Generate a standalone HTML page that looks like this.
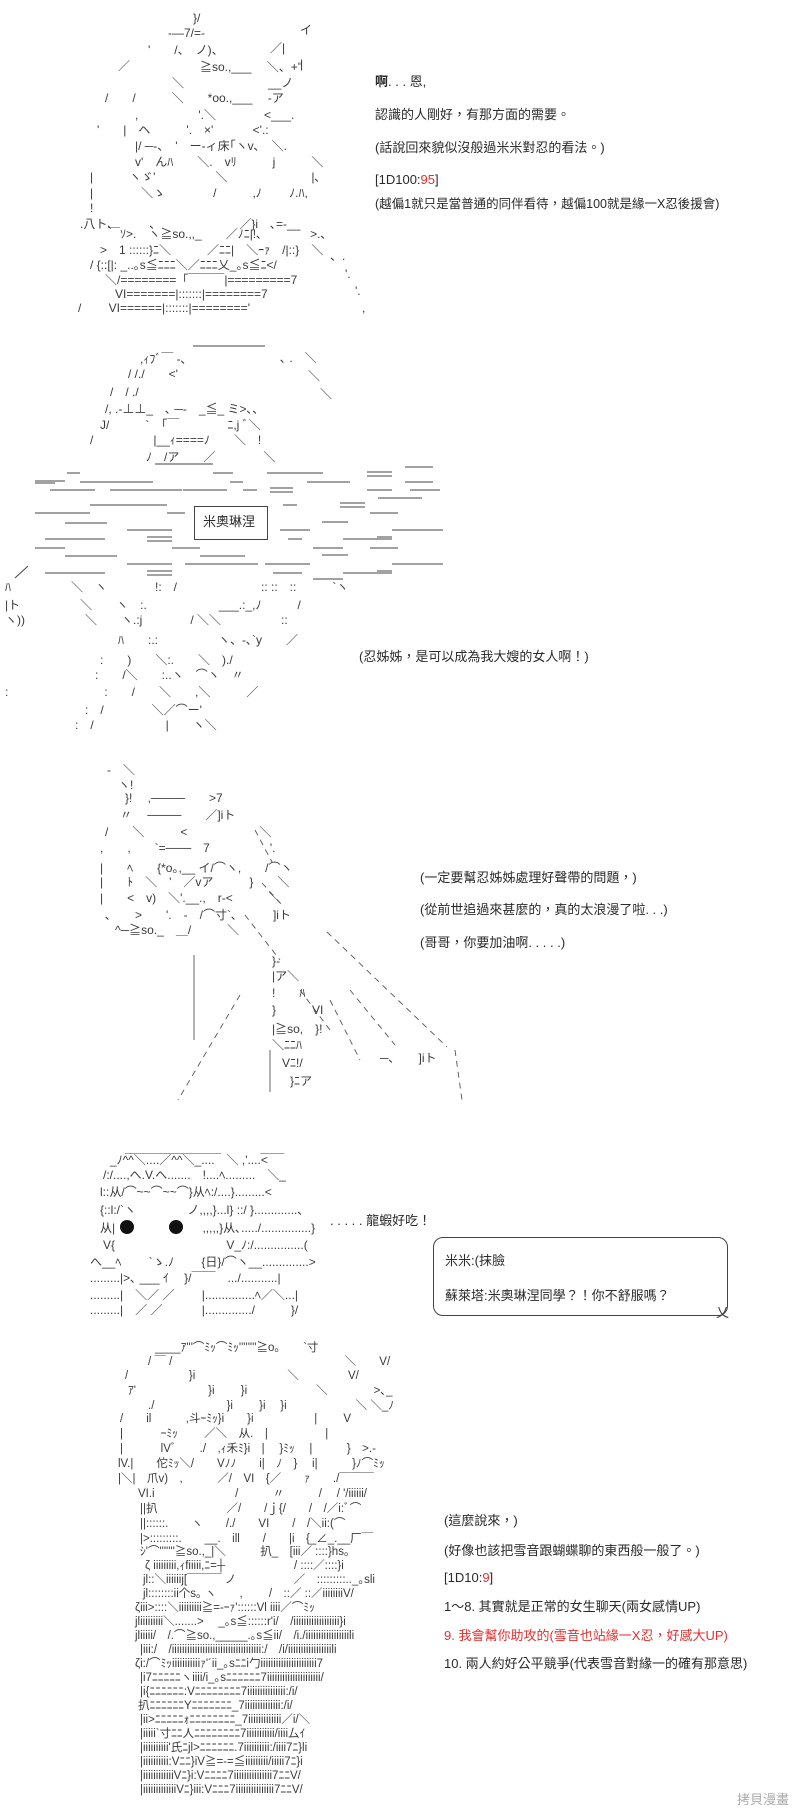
<!DOCTYPE html>
<html><head><meta charset="utf-8">
<style>
html,body{margin:0;padding:0;background:#fff;}
body{width:800px;height:1816px;position:relative;overflow:hidden;}
.a{position:absolute;white-space:pre;font-family:"Liberation Sans","Noto Sans CJK JP",sans-serif;font-size:12px;line-height:1;color:#3a3a3a;}
.s5 .a{font-size:11.5px;}
.t{position:absolute;white-space:pre;font-family:"Liberation Sans","Noto Sans CJK TC",sans-serif;font-size:13px;line-height:1;color:#2a2a2a;}
.r{color:#e03030;}
svg{position:absolute;left:0;top:0;}
</style></head><body>

<!-- Section 1 art -->
<div class="a" style="left:193px;top:12px">}/</div>
<div class="a" style="left:168px;top:27px">-―7/=-</div>
<div class="a" style="left:300px;top:24px">イ</div>
<div class="a" style="left:148px;top:44px">'　　/、　ノ)、</div>
<div class="a" style="left:270px;top:42px">／|</div>
<div class="a" style="left:118px;top:60px">／</div>
<div class="a" style="left:200px;top:61px">≧so.,___　 ＼、+''</div>
<div class="a" style="left:300px;top:58px">|</div>
<div class="a" style="left:172px;top:77px">＼　　　　　　　__ノ</div>
<div class="a" style="left:105px;top:92px">/　　/　　　＼　　*oo.,___　 -ア</div>
<div class="a" style="left:135px;top:109px">,　　　　　'.＼　　　　&lt;___.</div>
<div class="a" style="left:97px;top:124px">'　　|　ヘ　　　'.　×'　　　 &lt;'.:</div>
<div class="a" style="left:135px;top:140px">|/ ─-、　'　ー-ィ床｢ヽv､　＼.</div>
<div class="a" style="left:135px;top:156px">v'　んﾊ　　＼.　vﾘ　　　j　　　＼</div>
<div class="a" style="left:90px;top:171px">|　　　ヽゞ'　　　　　＼　　　　　　　|､</div>
<div class="a" style="left:90px;top:187px">|　　　　＼ゝ　　　　/　　　,ﾉ　　 ﾉ.ﾊ,</div>
<div class="a" style="left:90px;top:202px">!</div>
<div class="a" style="left:80px;top:218px">.八ト､　　　､　　　　　　　／}i　､=-__</div>
<div class="a" style="left:108px;top:228px">￣ｿ&gt;.　ヽ≧so.,,_　　／ﾉﾆ|!､　　　　&gt;.､</div>
<div class="a" style="left:100px;top:244px">&gt;　1 ::::::}ﾆ＼　　　／ﾆﾆ|　＼ｰｧ　/|::}　＼</div>
<div class="a" style="left:90px;top:259px">/ {::[|: _..｡s≦ﾆﾆﾆ＼／ﾆﾆﾆ乂_｡s≦ﾆ&lt;/</div>
<div class="a" style="left:105px;top:274px">＼/========「￣￣￣|=========7</div>
<div class="a" style="left:115px;top:288px">VI=======|:::::::|========7</div>
<div class="a" style="left:78px;top:302px">/　　 VI======|:::::::|========'</div>
<div class="a" style="left:330px;top:250px">、.</div>
<div class="a" style="left:345px;top:268px">'.</div>
<div class="a" style="left:355px;top:285px">'.</div>
<div class="a" style="left:362px;top:302px">,</div>

<div class="t" style="left:375px;top:75px"><b>啊</b>. . . 恩,</div>
<div class="t" style="left:375px;top:108px">認識的人剛好，有那方面的需要。</div>
<div class="t" style="left:375px;top:141px">(話說回來貌似沒般過米米對忍的看法。)</div>
<div class="t" style="left:375px;top:173px">[1D100:<span class="r">95</span>]</div>
<div class="t" style="left:375px;top:198px;font-size:12.5px">(越偏1就只是當普通的同伴看待，越偏100就是緣一X忍後援會)</div>

<!-- Section 2 art -->
<div class="a" style="left:140px;top:353px">,ｨﾌﾞ￣ -､</div>
<div class="a" style="left:280px;top:352px">､ .　＼</div>
<div class="a" style="left:128px;top:368px">/ /./　　&lt;'</div>
<div class="a" style="left:308px;top:370px">＼</div>
<div class="a" style="left:110px;top:386px">/　/ ./</div>
<div class="a" style="left:320px;top:388px">＼</div>
<div class="a" style="left:105px;top:403px">/, .-⊥⊥_　､ ─-　_≦_ ミ&gt;､､</div>
<div class="a" style="left:100px;top:419px">J/　　　`　｢￣　　　　ﾆ,j ﾞ＼</div>
<div class="a" style="left:90px;top:434px">/　　　　　|__ｨ====ﾉ　　＼　!</div>
<div class="a" style="left:146px;top:451px">ﾉ　/ア　　／　　　　＼</div>
<svg width="800" height="1816" style="pointer-events:none">
<g stroke="#444" stroke-width="1" fill="none">
<line x1="193" y1="346" x2="265" y2="346"/>
<line x1="155" y1="464" x2="213" y2="464"/>
<line x1="405" y1="467" x2="433" y2="467"/>
<line x1="67" y1="473" x2="80" y2="473"/><line x1="213" y1="473" x2="233" y2="473"/><line x1="267" y1="473" x2="323" y2="473"/>
<line x1="367" y1="472" x2="392" y2="472"/><line x1="367" y1="476" x2="392" y2="476"/>
<line x1="35" y1="481" x2="65" y2="481"/><line x1="35" y1="483" x2="55" y2="483"/><line x1="80" y1="482" x2="153" y2="482"/><line x1="230" y1="482" x2="243" y2="482"/><line x1="307" y1="482" x2="350" y2="482"/><line x1="405" y1="482" x2="433" y2="482"/>
<line x1="50" y1="490" x2="95" y2="490"/><line x1="110" y1="490" x2="182" y2="490"/><line x1="183" y1="490" x2="227" y2="490"/><line x1="243" y1="490" x2="257" y2="490"/>
<line x1="270" y1="488" x2="293" y2="488"/><line x1="270" y1="492" x2="293" y2="492"/><line x1="367" y1="490" x2="392" y2="490"/><line x1="410" y1="490" x2="440" y2="490"/>
<line x1="378" y1="498" x2="422" y2="498"/>
<line x1="90" y1="505" x2="167" y2="505"/><line x1="283" y1="505" x2="297" y2="505"/><line x1="340" y1="503" x2="365" y2="503"/><line x1="340" y1="507" x2="365" y2="507"/>
<line x1="35" y1="513" x2="90" y2="513"/><line x1="167" y1="513" x2="185" y2="513"/><line x1="370" y1="513" x2="398" y2="513"/>
<line x1="65" y1="523" x2="107" y2="523"/><line x1="322" y1="522" x2="348" y2="522"/>
<line x1="127" y1="530" x2="172" y2="530"/><line x1="280" y1="530" x2="310" y2="530"/><line x1="392" y1="530" x2="443" y2="530"/>
<line x1="45" y1="539" x2="105" y2="539"/><line x1="147" y1="537" x2="172" y2="537"/><line x1="147" y1="541" x2="172" y2="541"/><line x1="288" y1="539" x2="302" y2="539"/><line x1="343" y1="539" x2="392" y2="539"/><line x1="377" y1="537" x2="392" y2="537"/>
<line x1="35" y1="548" x2="65" y2="548"/><line x1="172" y1="548" x2="200" y2="548"/><line x1="313" y1="548" x2="343" y2="548"/><line x1="370" y1="548" x2="398" y2="548"/>
<line x1="65" y1="556" x2="117" y2="556"/><line x1="200" y1="556" x2="245" y2="556"/><line x1="322" y1="555" x2="348" y2="555"/>
<line x1="127" y1="564" x2="172" y2="564"/><line x1="185" y1="564" x2="258" y2="564"/><line x1="265" y1="564" x2="310" y2="564"/><line x1="392" y1="564" x2="443" y2="564"/>
<line x1="45" y1="573" x2="105" y2="573"/><line x1="147" y1="571" x2="172" y2="571"/><line x1="147" y1="575" x2="172" y2="575"/><line x1="273" y1="573" x2="302" y2="573"/><line x1="343" y1="573" x2="392" y2="573"/><line x1="377" y1="571" x2="392" y2="571"/>
<line x1="313" y1="579" x2="343" y2="579"/>
<line x1="15" y1="578" x2="28" y2="566"/>
</g>
<g stroke="#555" stroke-width="0.9" stroke-dasharray="6 5" fill="none">
<line x1="245" y1="915" x2="280" y2="960"/>
<line x1="327" y1="932" x2="447" y2="1047"/>
<line x1="255" y1="830" x2="272" y2="862"/>
<line x1="262" y1="883" x2="282" y2="905"/>
<line x1="350" y1="990" x2="395" y2="1045"/>
<line x1="330" y1="1000" x2="360" y2="1060"/>
<line x1="240" y1="995" x2="178" y2="1100"/>
<line x1="455" y1="1050" x2="462" y2="1100"/>
<line x1="300" y1="990" x2="330" y2="1030"/>
</g>
<g stroke="#555" stroke-width="0.9" fill="none">
<line x1="194" y1="955" x2="194" y2="1040"/>
<line x1="270" y1="1050" x2="270" y2="1092"/>
</g>
<circle cx="127" cy="1227" r="7" fill="#111"/>
<circle cx="176" cy="1227" r="7" fill="#111"/>
</svg>
<div style="position:absolute;left:194px;top:506px;width:72px;height:32px;border:1px solid #444;"></div>
<div class="t" style="left:203px;top:515px;font-size:13px">米奧琳涅</div>
<div class="a" style="left:5px;top:581px">ﾊ　　　　　＼　ヽ　　　　!:　/　　　　　　　:: ::　::　　　`ヽ</div>
<div class="a" style="left:5px;top:599px">|ト　　　　　＼　　ヽ　:.　　　　　　___.:_,ﾉ　　　/</div>
<div class="a" style="left:5px;top:614px">ヽ))　　　　　＼　　ヽ.:j　　　　/ ＼＼　　　　　::</div>
<div class="a" style="left:118px;top:634px">ﾊ　　:.:　　　　　ヽ、-､`y　　／</div>
<div class="a" style="left:100px;top:654px">:　　)　　＼:.　　＼　)./</div>
<div class="a" style="left:95px;top:669px">:　　/＼　　:..ヽ　⌒ヽ　〃</div>
<div class="a" style="left:5px;top:686px">:　　　　　　　　:　　/　　＼　　,＼　　　／</div>
<div class="a" style="left:85px;top:704px">:　/　　　　＼／⌒ー'</div>
<div class="a" style="left:75px;top:719px">:　/　　　　　　|　　ヽ＼</div>
<div class="t" style="left:359px;top:650px">(忍姊姊，是可以成為我大嫂的女人啊！)</div>

<!-- Section 3 art -->
<div class="a" style="left:107px;top:764px">-　＼</div>
<div class="a" style="left:118px;top:779px">ヽ!</div>
<div class="a" style="left:125px;top:792px">}!　 ,────　　&gt;7</div>
<div class="a" style="left:120px;top:809px">〃　 ────　　／]iト</div>
<div class="a" style="left:105px;top:826px">/　　＼　　　&lt;　　　　　　＼</div>
<div class="a" style="left:100px;top:842px">,　　,　　`=───　7　　　　　'.</div>
<div class="a" style="left:100px;top:862px">|　　ﾍ　　{*o｡,__ イ/⌒ヽ,　　/⌒ヽ</div>
<div class="a" style="left:100px;top:876px">|　　ﾄ　＼　'　／vア　　　}　　＼</div>
<div class="a" style="left:100px;top:892px">|　　&lt;　v)　＼'.__.,　r-&lt;　　　＼</div>
<div class="a" style="left:105px;top:909px">､　　&gt;　　'.　-　/⌒寸`､　　　]iト</div>
<div class="a" style="left:115px;top:924px">^─≧so._　＿/　　　＼</div>
<div class="a" style="left:272px;top:955px">}-</div>
<div class="a" style="left:272px;top:970px">|ア＼</div>
<div class="a" style="left:272px;top:987px">!　　ﾊ</div>
<div class="a" style="left:272px;top:1004px">}　　　VI</div>
<div class="a" style="left:272px;top:1023px">|≧so,　}!</div>
<div class="a" style="left:272px;top:1039px">＼ﾆﾆﾊ</div>
<div class="a" style="left:282px;top:1057px">Vﾆ!/</div>
<div class="a" style="left:290px;top:1075px">}ﾆア</div>
<div class="a" style="left:380px;top:1052px">─､　　]iト</div>
<div class="t" style="left:420px;top:871px">(一定要幫忍姊姊處理好聲帶的問題，)</div>
<div class="t" style="left:420px;top:903px">(從前世追過來甚麼的，真的太浪漫了啦. . .)</div>
<div class="t" style="left:420px;top:936px">(哥哥，你要加油啊. . . . .)</div>

<!-- Section 4 art -->
<div class="a" style="left:125px;top:1142px">＿＿＿＿＿＿＿＿　　　 ＿＿</div>
<div class="a" style="left:110px;top:1154px">_ﾉ^^＼....／^^＼_....　＼ ,'....&lt;</div>
<div class="a" style="left:103px;top:1169px">/:/....,へ.V.へ.......　!....ﾍ.........　＼_</div>
<div class="a" style="left:100px;top:1186px">l::从/⌒~~⌒~~⌒}从ﾍ:/....}.........&lt;</div>
<div class="a" style="left:100px;top:1204px">{::l:/`ヽ　　　　 ノ,,,,}...l} ::/ }.............､</div>
<div class="a" style="left:100px;top:1222px">从|　　　　　　　 ,,,,,}从､...../...............}</div>
<div class="a" style="left:103px;top:1239px">V{　　　　　　　　　 V_ﾉ:/...............(</div>
<div class="a" style="left:90px;top:1256px">へ__ﾍ　　 `ゝ.ﾉ　　 {日}/⌒ヽ__..............&gt;</div>
<div class="a" style="left:90px;top:1272px">.........|&gt;､ ___ ｲ　 }/￣￣　.../...........|</div>
<div class="a" style="left:90px;top:1289px">.........|　＼／ ／　　 |...............ﾍ／＼...|</div>
<div class="a" style="left:90px;top:1304px">.........|　／ ／　　　 |............../　　　}/</div>
<div class="t" style="left:330px;top:1214px">. . . . . 龍蝦好吃！</div>
<div style="position:absolute;left:433px;top:1237px;width:293px;height:77px;border:1px solid #444;border-radius:10px;"></div>
<div class="a" style="left:716px;top:1306px;font-size:13px">乂</div>
<div class="t" style="left:445px;top:1254px">米米:(抹臉</div>
<div class="t" style="left:445px;top:1289px">蘇萊塔:米奧琳涅同學？！你不舒服嗎？</div>

<!-- Section 5 art -->
<div class="s5">
<div class="a" style="left:155px;top:1343px">____ｱ'''⌒ﾐｯ⌒ﾐｯ''''''''≧o｡　　`寸</div>
<div class="a" style="left:148px;top:1357px">/ ￣ /　　　　　　　　　　　　　　　＼　　V/</div>
<div class="a" style="left:125px;top:1371px">/　　　　　 }i　　　　　　　　＼　　　　 V/</div>
<div class="a" style="left:128px;top:1386px">ｱ'　　　　　　 }i　　 }i　　　　　　＼　　　　&gt;､_</div>
<div class="a" style="left:148px;top:1401px">./　　　　　　 }i　　 }i　 }i　　　　　　＼ ＼_ﾉ</div>
<div class="a" style="left:120px;top:1414px">/　　il　　　,斗ｰﾐｯ}i　　}i　　　　　 |　　 V</div>
<div class="a" style="left:120px;top:1429px">|　　　 ｰﾐｯ　　 ／＼　从.　|　　　　　|</div>
<div class="a" style="left:120px;top:1444px">|　　　 lVﾞ　　./　,ｨ禾ﾐ}i　|　 }ﾐｯ　 |　　　}　&gt;.-</div>
<div class="a" style="left:118px;top:1459px">lV.|　　佗ﾐｯ＼/　　Vﾉﾉ　　i|　ﾉ　}　 i|　　　}ﾉ⌒ﾐｯ</div>
<div class="a" style="left:118px;top:1474px">|＼|　爪v)　,　　　／/　VI　{／　　ｧ　　./￣￣￣</div>
<div class="a" style="left:138px;top:1489px">VI.i　　　　　　　/　　　〃　　　/　 / '/iiiiii/</div>
<div class="a" style="left:140px;top:1504px">||扒　　　　　　／/　　/ｊ{/　　/　/／i:ﾞ⌒</div>
<div class="a" style="left:140px;top:1519px">||::::::.　　ヽ　　/./　　VI　　/　/＼ii:(⌒</div>
<div class="a" style="left:140px;top:1534px">|&gt;:::::::::.　　__.　ill　　/　　|i　{_∠_.__厂￣</div>
<div class="a" style="left:140px;top:1547px">ｼ'⌒'''''''≧so.,_|＼　　　扒_　[iii／ ::::}hs｡</div>
<div class="a" style="left:145px;top:1561px">ζ iiiiiiiii,ｨfiiiii,ﾆ=┼　　　　　　/ ::::／::::}i</div>
<div class="a" style="left:143px;top:1575px">jl::＼iiiiiij[￣￣￣ ノ　　　　　／　:::::::::.._｡sli</div>
<div class="a" style="left:143px;top:1589px">jl::::::::ii个s｡ ヽ　　,　　 /　::／ ::／iiiiiiiiV/</div>
<div class="a" style="left:135px;top:1603px">ζiii&gt;::::＼iiiiiiiii≧=-ｰｧ'::::::Vl iiii／⌒ﾐｯ</div>
<div class="a" style="left:135px;top:1617px">jliiiiiiiii＼.......&gt;　 _｡s≦::::::r'i/　/iiiiiiiiiiiiiiiiii}i</div>
<div class="a" style="left:135px;top:1631px">jliiiii/　/.⌒≧so.,_____.｡s≦ii/　/i./iiiiiiiiiiiiiiiiili</div>
<div class="a" style="left:140px;top:1645px">|iii:/　/iiiiiiiiiiiiiiiiiiiiiiiiiiiiiiiiiii:/　/i/iiiiiiiiiiiiiiiiili</div>
<div class="a" style="left:135px;top:1659px">ζi:/⌒ﾐｯiiiiiiiiiiiｧ'´ii_｡sﾆﾆi勹iiiiiiiiiiiiiiiiiiiiii7</div>
<div class="a" style="left:140px;top:1673px">|i7ﾆﾆﾆﾆﾆヽiiii/i_｡sﾆﾆﾆﾆﾆﾆ7iiiiiiiiiiiiiiiiiiiii/</div>
<div class="a" style="left:140px;top:1687px">|i{ﾆﾆﾆﾆﾆﾆ:Vﾆﾆﾆﾆﾆﾆﾆﾆ7iiiiiiiiiiiiiii:/i/</div>
<div class="a" style="left:138px;top:1701px">扒ﾆﾆﾆﾆﾆﾆYﾆﾆﾆﾆﾆﾆﾆ_7iiiiiiiiiiiiii:/i/</div>
<div class="a" style="left:140px;top:1715px">|ii&gt;ﾆﾆﾆﾆﾆｫﾆﾆﾆﾆﾆﾆﾆﾆ_7iiiiiiiiiiiii／i/＼</div>
<div class="a" style="left:140px;top:1729px">|iiiii`寸ﾆﾆ人ﾆﾆﾆﾆﾆﾆﾆﾆ7iiiiiiiiiii/iiii厶ｲ</div>
<div class="a" style="left:140px;top:1743px">|iiiiiiiiii'氏ﾆjl&gt;ﾆﾆﾆﾆﾆﾆ.7iiiiiiiiii:/iiii7ﾆ}li</div>
<div class="a" style="left:140px;top:1757px">|iiiiiiiiii:Vﾆﾆ}iV≧=-=≦iiiiiiiii/iiiii7ﾆ}i</div>
<div class="a" style="left:140px;top:1771px">|iiiiiiiiiiiiVﾆ}i:Vﾆﾆﾆﾆ7iiiiiiiiiiiiiii7ﾆﾆV/</div>
<div class="a" style="left:140px;top:1785px">|iiiiiiiiiiiiiVﾆ}iii:Vﾆﾆﾆ7iiiiiiiiiiiiiii7ﾆﾆV/</div>
</div>
<div class="t" style="left:444px;top:1514px">(這麼說來，)</div>
<div class="t" style="left:444px;top:1544px">(好像也該把雪音跟蝴蝶聊的東西般一般了。)</div>
<div class="t" style="left:444px;top:1571px">[1D10:<span class="r">9</span>]</div>
<div class="t" style="left:444px;top:1600px">1～8. 其實就是正常的女生聊天(兩女感情UP)</div>
<div class="t r" style="left:444px;top:1629px">9. 我會幫你助攻的(雪音也站緣一X忍，好感大UP)</div>
<div class="t" style="left:444px;top:1657px">10. 兩人約好公平競爭(代表雪音對緣一的確有那意思)</div>
<div class="t" style="left:737px;top:1793px;font-size:13px;color:#aaa">拷貝漫畫</div>
</body></html>
